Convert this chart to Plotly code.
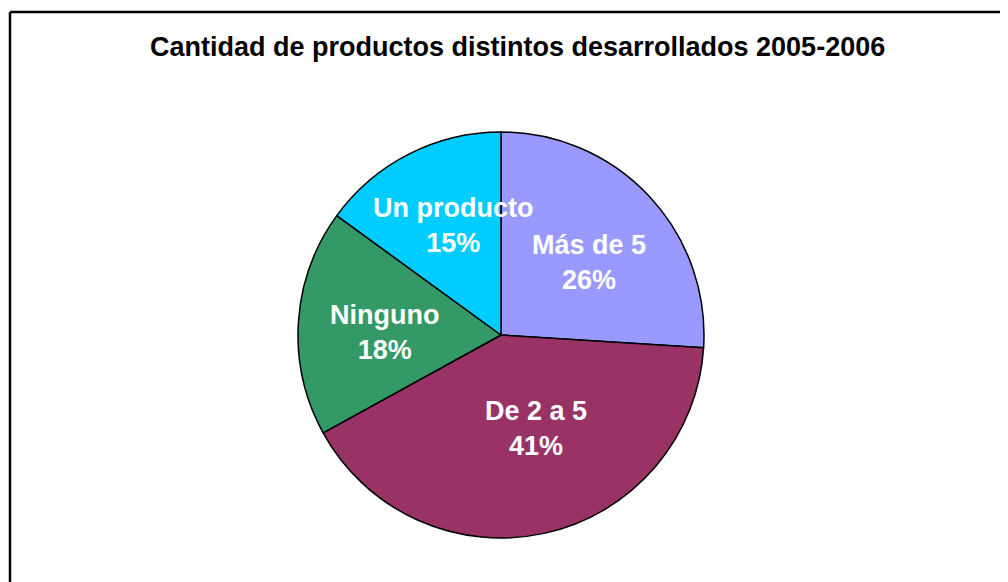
import math
import plotly.graph_objects as go

labels = ["Más de 5", "De 2 a 5", "Ninguno", "Un producto"]
values = [26, 41, 18, 15]
colors = ["#9999FF", "#993366", "#339966", "#00CCFF"]
title = "Cantidad de productos distintos desarrollados 2005-2006"

W, H = 1008, 582
OFF = 8  # page body margin
cx, cy, R = 501 - OFF, 335 - OFF, 203  # pie centre / radius in px (from top-left)

fig = go.Figure(go.Pie(
    labels=labels, values=values, sort=False, direction="clockwise", rotation=0,
    marker=dict(colors=colors, line=dict(color="black", width=1.5)),
    textinfo="none", hoverinfo="label+percent", showlegend=False,
    domain=dict(x=[(cx - R) / W, (cx + R) / W], y=[(H - cy - R) / H, (H - cy + R) / H]),
))

# labels placed near each slice's mid-angle (radial fraction, angular nudge in degrees)
total = sum(values)
cum = 0
frac = [0.56, 0.49, 0.576, 0.587]
nudge = [3.9, -8.0, -2.6, 3.2]
for lab, v, f, dn in zip(labels, values, frac, nudge):
    mid = (cum + v / 2) / total * 2 * math.pi + math.radians(dn)
    cum += v
    px = cx + f * R * math.sin(mid)
    py = cy - f * R * math.cos(mid)
    pct = round(v / total * 100)
    fig.add_annotation(
        x=px / W, y=1 - py / H, xref="paper", yref="paper", xanchor="center", yanchor="middle",
        text=f"{lab}<br>{pct}%", showarrow=False, align="center",
        font=dict(family="Liberation Sans, Arial", size=27, color="white", weight="bold"),
    )

fig.add_annotation(
    x=(517 - OFF) / W, y=1 - (47 - OFF) / H, xref="paper", yref="paper",
    xanchor="center", yanchor="middle", text=f"<b>{title}</b>",
    showarrow=False, font=dict(family="Liberation Sans, Arial", size=27, color="black"),
)

# outer frame (runs off the right and bottom edges)
fx, fy = 10 - OFF, 12 - OFF
fig.add_shape(type="line", xref="paper", yref="paper", x0=fx / W, x1=1.05, y0=1 - fy / H, y1=1 - fy / H,
              line=dict(color="black", width=2.5))
fig.add_shape(type="line", xref="paper", yref="paper", x0=fx / W, x1=fx / W, y0=1 - fy / H, y1=-0.05,
              line=dict(color="black", width=2.5))

fig.update_layout(width=W, height=H, margin=dict(l=0, r=0, t=0, b=0),
                  paper_bgcolor="white", plot_bgcolor="white")
fig.write_html("out.html")
